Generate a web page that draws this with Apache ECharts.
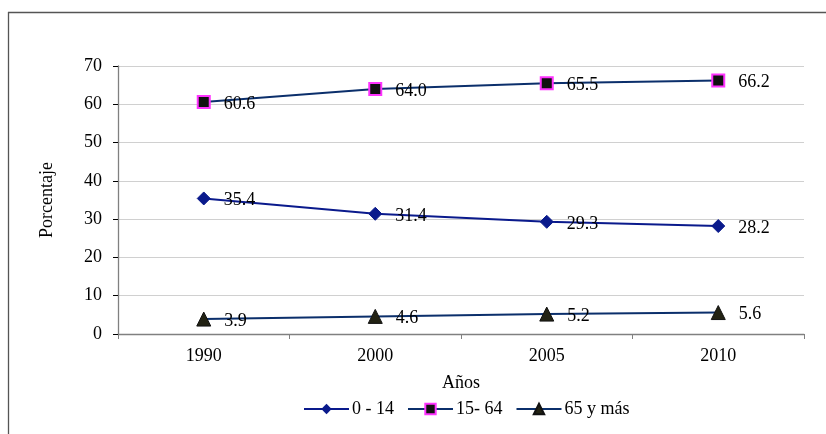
<!DOCTYPE html>
<html><head><meta charset="utf-8">
<script src="https://cdn.jsdelivr.net/npm/echarts@6/dist/echarts.min.js"></script>
<style>html,body{margin:0;padding:0;background:#fff}#c{width:826px;height:434px}</style>
</head><body><div id="c"></div>
<script>
const categories = ['1990', '2000', '2005', '2010'];
const yTicks = [0, 10, 20, 30, 40, 50, 60, 70];
const serie0a14 = [35.4, 31.4, 29.3, 28.2];
const serie15a64 = [60.6, 64.0, 65.5, 66.2];
const serie65mas = [3.9, 4.6, 5.2, 5.6];
const seriesNames = ['0 - 14', '15- 64', '65 y más'];

const font = 'Liberation Serif, Times New Roman, serif';
const fs = 18;
const chart = echarts.init(document.getElementById('c'), null, {renderer: 'canvas'});
const lbl = {show: true, position: 'right', distance: 13, offset: [0, 2], color: '#000', fontFamily: font, fontSize: fs,
  formatter: p => p.value.toFixed(1)};
chart.setOption({
  animation: false,
  backgroundColor: '#fff',
  textStyle: {fontFamily: font},
  graphic: [
    {type: 'line', shape: {x1: 8, y1: 12.5, x2: 826, y2: 12.5}, style: {stroke: '#555', lineWidth: 1.3}},
    {type: 'line', shape: {x1: 8.5, y1: 12, x2: 8.5, y2: 434}, style: {stroke: '#555', lineWidth: 1.3}}
  ],
  grid: {left: 118, right: 22, top: 66, bottom: 100},
  legend: {
    top: 395, left: 298, itemWidth: 45, itemHeight: 13, itemGap: 13,
    textStyle: {fontFamily: font, fontSize: fs, color: '#000', padding: [0, 0, 0, -2]},
    data: seriesNames
  },
  xAxis: {
    type: 'category', data: categories, boundaryGap: true,
    name: 'Años', nameLocation: 'middle', nameGap: 40,
    nameTextStyle: {fontFamily: font, fontSize: fs, color: '#000'},
    axisLine: {lineStyle: {color: '#808080', width: 1.3}},
    axisTick: {show: true, length: 5, lineStyle: {color: '#808080'}},
    axisLabel: {fontFamily: font, fontSize: fs, color: '#000', margin: 13}
  },
  yAxis: {
    type: 'value', min: yTicks[0], max: yTicks[yTicks.length - 1], interval: 10,
    name: 'Porcentaje', nameLocation: 'middle', nameGap: 62, nameRotate: 90,
    nameTextStyle: {fontFamily: font, fontSize: fs, color: '#000'},
    axisLine: {show: true, lineStyle: {color: '#808080', width: 1.3}},
    axisTick: {show: true, length: 5, lineStyle: {color: '#000'}},
    axisLabel: {fontFamily: font, fontSize: fs, color: '#000', margin: 16},
    splitLine: {show: true, lineStyle: {color: '#d0d0d0', width: 1}}
  },
  series: [
    {name: seriesNames[0], type: 'line', data: serie0a14, symbol: 'diamond', symbolSize: 13,
     lineStyle: {color: '#0a1a8c', width: 2}, itemStyle: {color: '#0a1a8c', borderColor: '#0a1a8c'}, label: lbl},
    {name: seriesNames[1], type: 'line', data: serie15a64, symbol: 'rect', symbolSize: 12,
     lineStyle: {color: '#0b2f6b', width: 2}, itemStyle: {color: '#111', borderColor: '#ff33ff', borderWidth: 2}, label: lbl},
    {name: seriesNames[2], type: 'line', data: serie65mas, symbol: 'triangle', symbolSize: 14,
     lineStyle: {color: '#0b2f6b', width: 2}, itemStyle: {color: '#222213', borderColor: '#111', borderWidth: 1}, label: lbl}
  ]
});
</script></body></html>
